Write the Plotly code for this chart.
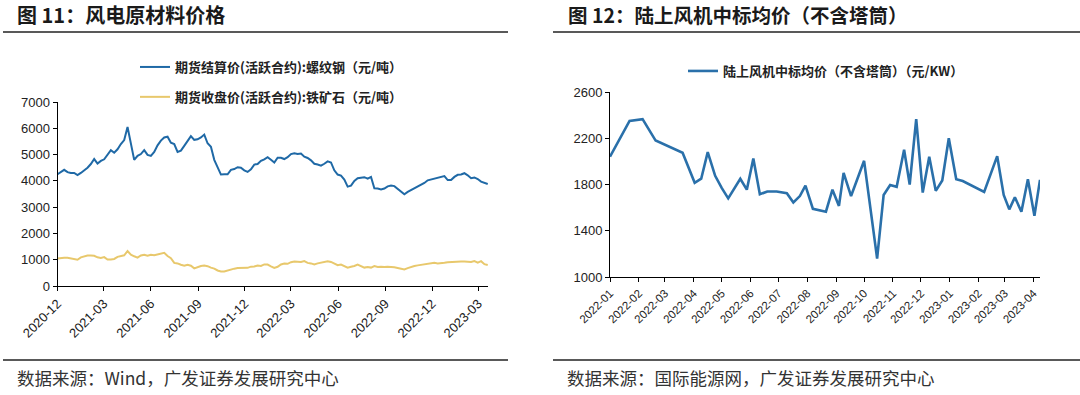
import pandas as pd
import plotly.graph_objects as go

# ---------------- Left chart data (Figure 11) ----------------
left_start = "2020-12-01"
rebar = [
    4250, 4330, 4420, 4330, 4300, 4300, 4220, 4300, 4400, 4500,
    4640, 4830, 4660, 4760, 4820, 5020, 5170, 5070, 5200, 5400,
    5550, 6050, 5350, 4800, 4950, 5020, 5170, 4990, 4950, 5100,
    5350, 5530, 5650, 5680, 5450, 5400, 5100, 5150, 5330, 5520,
    5700, 5560, 5580, 5650, 5760, 5430, 5300, 4800, 4490, 4240,
    4250, 4250, 4420, 4450, 4520, 4500, 4400, 4340, 4440, 4620,
    4640, 4760, 4820, 4900, 4800, 4700, 4880, 4880, 4830, 4900,
    5020, 5050, 5020, 5040, 4920, 4870, 4780, 4650, 4620, 4580,
    4650, 4740, 4700, 4400, 4240, 4200, 4050, 3780, 3820, 4000,
    4100, 4110, 4140, 4080, 4150, 3720, 3710, 3670, 3710, 3790,
    3820, 3800, 3700, 3580, 3490, 3580, 3650, 3710, 3780, 3840,
    3920, 4020, 4050, 4090, 4110, 4160, 4180, 4030, 4030, 4150,
    4230, 4240, 4290, 4210, 4100, 4130, 4070, 3970, 3930, 3880,
]
iron_ore = [
    1050, 1070, 1075, 1075, 1055, 1020, 1000, 1090, 1140, 1160,
    1160, 1150, 1090, 1070, 1100, 1010, 1010, 1030, 1110, 1130,
    1170, 1330, 1190, 1130, 1080, 1160, 1190, 1150, 1190, 1170,
    1200, 1210, 1260, 1140, 1060, 880, 860, 810, 770, 810,
    770, 670, 720, 760, 780, 755, 700, 660, 590, 555,
    550, 595, 625, 660, 685, 685, 705, 690, 735, 740,
    780, 765, 820, 815, 750, 690, 730, 820, 855, 845,
    905, 930, 920, 910, 945, 880, 860, 820, 860, 880,
    910, 945, 915, 840, 790, 815, 760, 700, 735, 760,
    815, 760, 700, 720, 700, 755, 720, 735, 720, 735,
    735, 710, 685, 655, 630, 680, 735, 760, 785, 805,
    820, 850, 860, 880, 860, 885, 885, 900, 910, 920,
    945, 935, 935, 910, 910, 945, 890, 945, 830, 800,
]
left_dates = pd.date_range(left_start, periods=len(rebar), freq="156h")
left_names = ["期货结算价(活跃合约):螺纹钢（元/吨）", "期货收盘价(活跃合约):铁矿石（元/吨）"]

# ---------------- Right chart data (Figure 12) ----------------
bid_dates = [
    "2022-01-01", "2022-01-22", "2022-02-05", "2022-02-19", "2022-03-20",
    "2022-04-02", "2022-04-09", "2022-04-16", "2022-04-24", "2022-05-01",
    "2022-05-08", "2022-05-21", "2022-05-28", "2022-06-04", "2022-06-11",
    "2022-06-19", "2022-06-29", "2022-07-10", "2022-07-17", "2022-07-24",
    "2022-07-30", "2022-08-07", "2022-08-21", "2022-08-28", "2022-09-04",
    "2022-09-09", "2022-09-17", "2022-10-01", "2022-10-15", "2022-10-22",
    "2022-10-29", "2022-11-05", "2022-11-13", "2022-11-19", "2022-11-26",
    "2022-12-03", "2022-12-10", "2022-12-17", "2022-12-24", "2022-12-31",
    "2023-01-08", "2023-01-15", "2023-02-07", "2023-02-21", "2023-02-28",
    "2023-03-06", "2023-03-12", "2023-03-19", "2023-03-26", "2023-04-02",
    "2023-04-08",
]
bid_price = [
    2040, 2350, 2365, 2180, 2075,
    1815, 1850, 2080, 1875, 1770,
    1680, 1850, 1755, 2025, 1715,
    1740, 1740, 1725, 1645, 1700,
    1790, 1590, 1565, 1755, 1615,
    1900, 1700, 2005, 1160, 1710,
    1795, 1780, 2100, 1800, 2365,
    1730, 2040, 1745, 1835, 2200,
    1845, 1830, 1735, 2045, 1710,
    1585, 1690, 1565, 1845, 1530,
    1840,
]
right_name = "陆上风机中标均价（不含塔筒）（元/KW）"

W, H = 1080, 395
CJK = "Noto Sans CJK SC"
NUM = "Liberation Sans, Arial, sans-serif"

fig = go.Figure()
fig.add_trace(go.Scatter(x=left_dates, y=rebar, mode="lines", name=left_names[0],
                         line=dict(color="#1f69a6", width=2), xaxis="x", yaxis="y",
                         legend="legend", legendgroup="a"))
fig.add_trace(go.Scatter(x=left_dates, y=iron_ore, mode="lines", name=left_names[1],
                         line=dict(color="#e8c86c", width=2), xaxis="x", yaxis="y",
                         legend="legend", legendgroup="b"))
fig.add_trace(go.Scatter(x=bid_dates, y=bid_price, mode="lines", name=right_name,
                         line=dict(color="#2a70aa", width=2.6), xaxis="x2", yaxis="y2",
                         legend="legend2"))

def px(x):
    return x / W

def py(y):
    return 1 - y / H

axis_common = dict(showgrid=False, zeroline=False, showline=True, linecolor="#000",
                   linewidth=1, ticks="outside", ticklen=4, tickcolor="#000",
                   automargin=False,
                   tickfont=dict(family=NUM, size=13, color="#222"))

fig.update_layout(
    width=W, height=H, margin=dict(l=0, r=0, t=0, b=0, autoexpand=False),
    paper_bgcolor="white", plot_bgcolor="white",
    xaxis=dict(axis_common, type="date", domain=[px(57.5), px(488)],
               range=["2020-12-01", "2023-03-20"], tick0="2020-12-01", dtick="M3",
               tickformat="%Y-%m", tickangle=-45, anchor="y",
               tickfont=dict(family=NUM, size=13, color="#222")),
    yaxis=dict(axis_common, domain=[py(286), py(102)], range=[0, 7000], dtick=1000,
               tick0=0, anchor="x"),
    xaxis2=dict(axis_common, type="date", domain=[px(610), px(1040)],
                range=["2022-01-01", "2023-04-08"], tick0="2022-01-01", dtick="M1",
                tickformat="%Y-%m", tickangle=-45, anchor="y2",
                tickfont=dict(family=NUM, size=11.5, color="#222")),
    yaxis2=dict(axis_common, domain=[py(277), py(92)], range=[1000, 2600], dtick=400,
                tick0=1000, anchor="x2"),
    legend=dict(x=px(135), y=py(52), xanchor="left", yanchor="top",
                bgcolor="rgba(0,0,0,0)", tracegroupgap=10, itemwidth=30,
                font=dict(family=CJK, size=13, color="#222", weight="bold")),
    legend2=dict(x=px(683), y=py(56), xanchor="left", yanchor="top",
                 bgcolor="rgba(0,0,0,0)", itemwidth=30,
                 font=dict(family=CJK, size=13, color="#222", weight="bold")),
    showlegend=True,
)

# titles
fig.add_annotation(x=px(15), y=py(15), xref="paper", yref="paper", xanchor="left",
                   yanchor="middle", showarrow=False, text="<b>图 11：风电原材料价格</b>",
                   font=dict(family=CJK, size=20, color="#1a1a1a"))
fig.add_annotation(x=px(566), y=py(15), xref="paper", yref="paper", xanchor="left",
                   yanchor="middle", showarrow=False, text="<b>图 12：陆上风机中标均价（不含塔筒）</b>",
                   font=dict(family=CJK, size=19.5, color="#1a1a1a"))
# sources
fig.add_annotation(x=px(15), y=py(377), xref="paper", yref="paper", xanchor="left",
                   yanchor="middle", showarrow=False, text="数据来源：Wind，广发证券发展研究中心",
                   font=dict(family=CJK, size=17.5, color="#333"))
fig.add_annotation(x=px(565), y=py(377), xref="paper", yref="paper", xanchor="left",
                   yanchor="middle", showarrow=False, text="数据来源：国际能源网，广发证券发展研究中心",
                   font=dict(family=CJK, size=17.5, color="#333"))

# separator rules
for (x0, x1) in [(3, 508), (553, 1080)]:
    for yy in (32, 360):
        fig.add_shape(type="line", xref="paper", yref="paper", x0=px(x0), x1=px(x1),
                      y0=py(yy), y1=py(yy), line=dict(color="#222", width=1.6))

fig.write_html("out.html", config={"displayModeBar": False},
               post_script="document.body.style.margin='0';document.body.style.overflow='hidden';")
